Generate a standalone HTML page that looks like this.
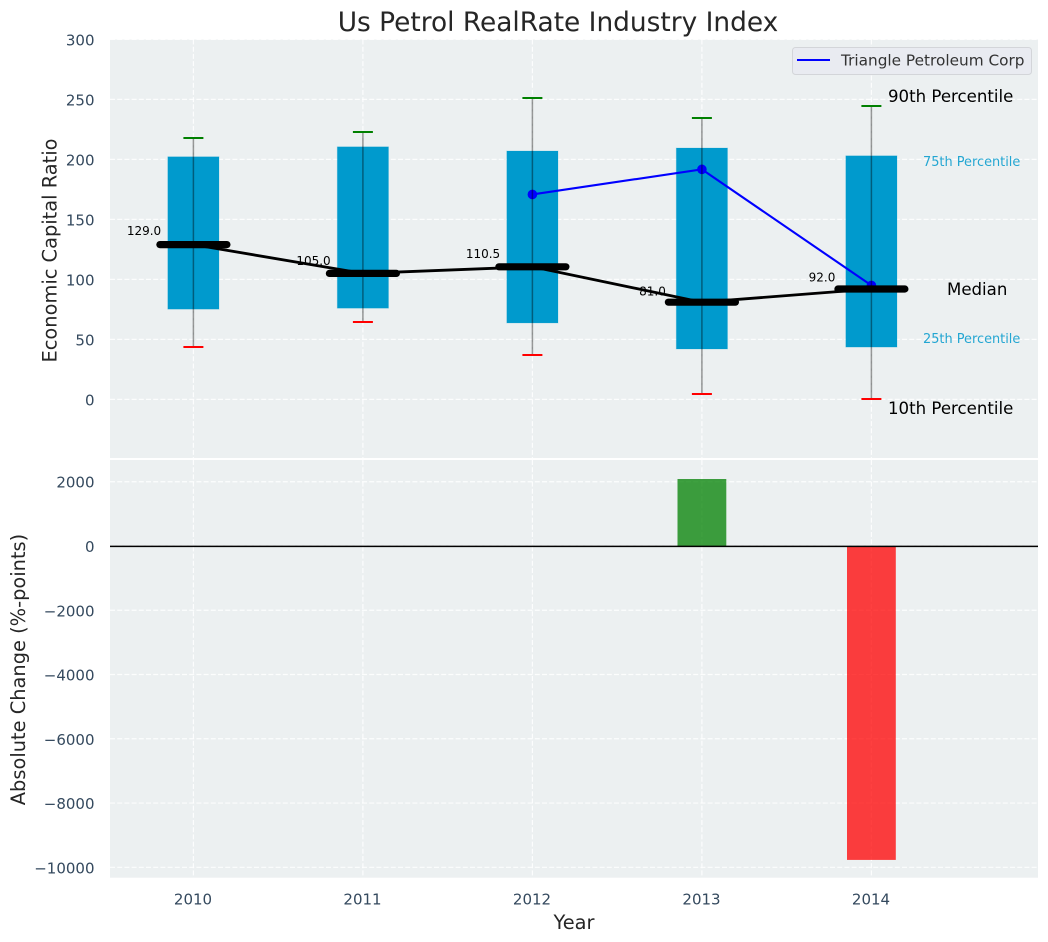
<!DOCTYPE html>
<html lang="en">
<head>
<meta charset="utf-8">
<title>Us Petrol RealRate Industry Index</title>
<style>
html,body{margin:0;padding:0;background:#fff;width:1048px;height:942px;overflow:hidden}
svg{display:block}
text{font-family:"DejaVu Sans","Liberation Sans",sans-serif}
</style>
</head>
<body>
<svg id="chart" width="1048" height="942" viewBox="0 0 1048 942" xmlns="http://www.w3.org/2000/svg">
  <rect x="110" y="39.5" width="928" height="418.5" fill="#ecf0f1"/>
  <rect x="110" y="460" width="928" height="417.7" fill="#ecf0f1"/>
  <g id="layer-grid"></g>
  <g id="layer-bars"></g>
  <g id="layer-boxes"></g>
  <g id="layer-company"></g>
  <g id="layer-whiskers"></g>
  <g id="layer-median"></g>
  <g id="layer-ticks"></g>

  <text x="558" y="31" text-anchor="middle" font-size="26.4px" fill="#262626">Us Petrol RealRate Industry Index</text>
  <text x="574" y="929" text-anchor="middle" font-size="19.4px" fill="#262626">Year</text>
  <text transform="translate(56.5,250.5) rotate(-90)" text-anchor="middle" font-size="19.4px" fill="#262626">Economic Capital Ratio</text>
  <text transform="translate(25,669.5) rotate(-90)" text-anchor="middle" font-size="19.4px" fill="#262626">Absolute Change (%-points)</text>

  <text x="888" y="102" font-size="16.6px" fill="#000">90th Percentile</text>
  <text x="923" y="166" font-size="12.9px" fill="#0099cc" fill-opacity="0.85">75th Percentile</text>
  <text x="947" y="295" font-size="16.6px" fill="#000">Median</text>
  <text x="923" y="343" font-size="12.9px" fill="#0099cc" fill-opacity="0.85">25th Percentile</text>
  <text x="888" y="414" font-size="16.6px" fill="#000">10th Percentile</text>

  <g>
    <rect x="792.5" y="47.5" width="239" height="27" rx="3" fill="#e9ebf1" stroke="#d3d5d9" stroke-width="1"/>
    <line x1="797" y1="60" x2="830" y2="60" stroke="#0000ff" stroke-width="2"/>
    <text x="841" y="65.5" font-size="15.3px" fill="#333">Triangle Petroleum Corp</text>
  </g>
</svg>
<script>
var years = [2010, 2011, 2012, 2013, 2014];
var p10 = [43.8, 64.4, 37, 4.4, 0.5];
var p25 = [75.2, 76, 63.7, 42, 43.6];
var medians = [129, 105, 110.5, 81, 92];
var p75 = [202.2, 210.5, 207, 209.5, 203];
var p90 = [218, 223, 251, 234.5, 244.7];
var companyYears = [2012, 2013, 2014];
var companyValues = [170.8, 191.7, 95];
var changeYears = [2013, 2014];
var changeValues = [2085, -9770];
var topTicks = [0, 50, 100, 150, 200, 250, 300];
var bottomTicks = [2000, 0, -2000, -4000, -6000, -8000, -10000];

function xScale(year) { return 193.4 + (year - 2010) * 169.5; }
function yTop(value) { return 399.4 - value * 1.2; }
function yBottom(value) { return 546 - value * 0.03213; }

var NS = 'http://www.w3.org/2000/svg';
function make(tag, parentId, attrs, content) {
  var el = document.createElementNS(NS, tag);
  for (var key in attrs) { el.setAttribute(key, attrs[key]); }
  if (content !== undefined) { el.textContent = content; }
  document.getElementById(parentId).appendChild(el);
  return el;
}
function tickText(v) { return String(v).replace('-', '\u2212'); }

var gridStyle = { stroke: '#fff', 'stroke-width': 1.2, 'stroke-dasharray': '5,2.2', 'stroke-opacity': 0.85 };
function gridAttrs(x1, y1, x2, y2) {
  var a = { x1: x1, y1: y1, x2: x2, y2: y2 };
  for (var k in gridStyle) { a[k] = gridStyle[k]; }
  return a;
}

years.forEach(function (yr) {
  var x = xScale(yr);
  var g1 = make('line', 'layer-grid', gridAttrs(x, 39.5, x, 458));
  
  
  var g2 = make('line', 'layer-grid', gridAttrs(x, 460, x, 877.7));
  
  
  var lab = make('text', 'layer-ticks', { x: x - 0.4, y: 904.5, 'text-anchor': 'middle', 'font-size': '15px', fill: '#34495e' }, String(yr));
  
  
});

topTicks.forEach(function (v) {
  var y = yTop(v);
  var g = make('line', 'layer-grid', gridAttrs(110, y, 1038, y));
  
  
  var lab = make('text', 'layer-ticks', { x: 94.5, y: y + 6, 'text-anchor': 'end', 'font-size': '15px', fill: '#34495e' }, tickText(v));
  
  
});

bottomTicks.forEach(function (v) {
  var y = yBottom(v);
  var g = make('line', 'layer-grid', gridAttrs(110, y, 1038, y));
  
  
  var lab = make('text', 'layer-ticks', { x: 94.5, y: y + 6, 'text-anchor': 'end', 'font-size': '15px', fill: '#34495e' }, tickText(v));
  
  
});

changeValues.forEach(function (v, i) {
  var x = xScale(changeYears[i]);
  var y0 = yBottom(0);
  var y1 = yBottom(v);
  var bar = make('rect', 'layer-bars', {
    x: x - 24.4, y: Math.min(y0, y1), width: 48.8, height: Math.abs(y1 - y0),
    fill: v >= 0 ? '#008000' : '#ff0000', 'fill-opacity': 0.75
  });
  
  
});
var zero = make('line', 'layer-bars', { x1: 110, y1: yBottom(0) + 0.4, x2: 1038, y2: yBottom(0) + 0.4, stroke: '#000', 'stroke-width': 1.5 });



years.forEach(function (yr, i) {
  var x = xScale(yr);
  var box = make('rect', 'layer-boxes', {
    x: x - 25.6, y: yTop(p75[i]), width: 51.2, height: yTop(p25[i]) - yTop(p75[i]),
    fill: '#009acd', stroke: '#009acd', 'stroke-opacity': 0.2, 'stroke-width': 1
  });
  
  
});

var companyPoints = companyValues.map(function (v, i) { return xScale(companyYears[i]) + ',' + yTop(v); }).join(' ');
var companyLine = make('polyline', 'layer-company', { points: companyPoints, fill: 'none', stroke: '#0000ff', 'stroke-width': 2.1 });


companyValues.forEach(function (v, i) {
  var dot = make('circle', 'layer-company', { cx: xScale(companyYears[i]), cy: yTop(v), r: 4.8, fill: '#0000ff' });
  
  
});

years.forEach(function (yr, i) {
  var x = xScale(yr);
  var stem = make('line', 'layer-whiskers', { x1: x, y1: yTop(p90[i]), x2: x, y2: yTop(p10[i]), stroke: '#000', 'stroke-opacity': 0.4, 'stroke-width': 1.5 });
  
  
  var capTopY = Math.round(yTop(p90[i]));
  var capTop = make('line', 'layer-whiskers', { x1: x - 10, y1: capTopY, x2: x + 10, y2: capTopY, stroke: '#008000', 'stroke-width': 2 });
  
  
  var capBottomY = Math.round(yTop(p10[i]));
  var capBottom = make('line', 'layer-whiskers', { x1: x - 10, y1: capBottomY, x2: x + 10, y2: capBottomY, stroke: '#ff0000', 'stroke-width': 2 });
  
  
});

var medianPoints = medians.map(function (v, i) { return xScale(years[i]) + ',' + yTop(v); }).join(' ');
var medianLine = make('polyline', 'layer-median', { points: medianPoints, fill: 'none', stroke: '#000', 'stroke-width': 2.8 });


medians.forEach(function (v, i) {
  var x = xScale(years[i]);
  var y = yTop(v);
  var bar = make('line', 'layer-median', { x1: x - 33.5, y1: y, x2: x + 33.5, y2: y, stroke: '#000', 'stroke-width': 7.2, 'stroke-linecap': 'round' });
  
  
  var lab = make('text', 'layer-median', { x: x - 49.4, y: yTop(v * 1.05) - 2, 'text-anchor': 'middle', 'font-size': '12px', fill: '#000' }, v.toFixed(1));
  
  
});
</script>
</body>
</html>
